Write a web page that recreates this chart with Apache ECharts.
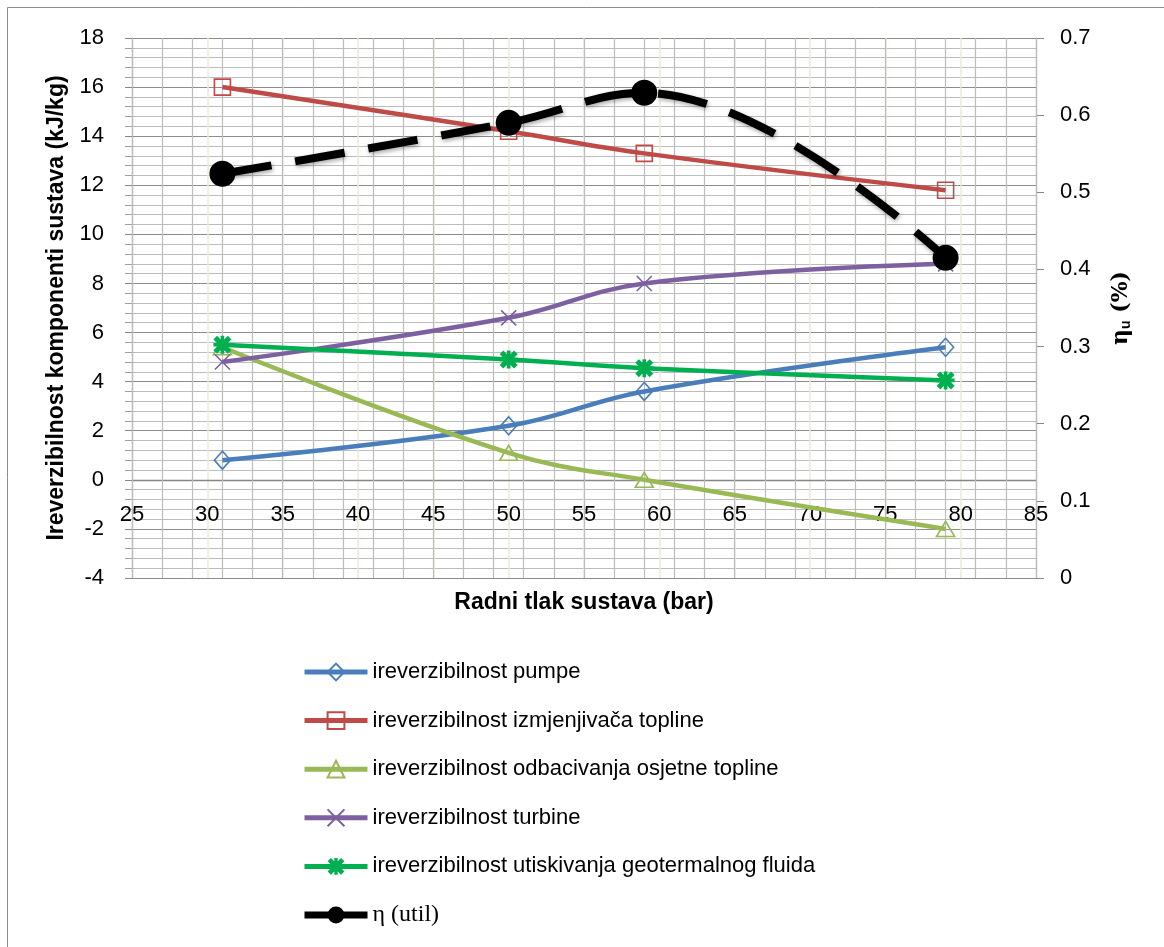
<!DOCTYPE html>
<html>
<head>
<meta charset="utf-8">
<script src="https://cdn.jsdelivr.net/npm/echarts@6/dist/echarts.min.js"></script>
<style>
html,body{margin:0;padding:0;background:#fff;}
#chart{width:1164px;height:947px;}
</style>
</head>
<body>
<div id="chart"></div>
<script>
// ---- data ----
const pressure = [31, 50, 59, 79];
const pumpe = [0.8, 2.2, 3.6, 5.4];
const izmjenjivac = [16.0, 14.2, 13.3, 11.8];
const odbacivanje = [5.4, 1.1, 0.0, -2.0];
const turbina = [4.8, 6.6, 8.0, 8.8];
const utiskivanje = [5.5, 4.9, 4.55, 4.05];
const etaUtil = [0.524, 0.590, 0.629, 0.415];

const seriesNames = [
  'ireverzibilnost pumpe',
  'ireverzibilnost izmjenjivača topline',
  'ireverzibilnost odbacivanja osjetne topline',
  'ireverzibilnost turbine',
  'ireverzibilnost utiskivanja geotermalnog fluida',
  'η (util)'
];
const seriesColors = ['#4a7ebb', '#be4b48', '#98b954', '#7d60a0', '#00b050', '#000000'];
const xTitle = 'Radni tlak sustava (bar)';
const yTitle = 'Ireverzibilnost komponenti sustava (kJ/kg)';

function pairs(ys) { return pressure.map((x, i) => [x, ys[i]]); }

const FONT = 'Liberation Sans';
const xPath = 'path://M0,0 L10,10 M10,0 L0,10';
const starPath = 'path://M2,0 L5,3 L8,0 L10,2 L7,5 L10,8 L8,10 L5,7 L2,10 L0,8 L3,5 L0,2 Z M4,0 L6,0 L6,10 L4,10 Z M0,4 L10,4 L10,6 L0,6 Z';

function lineSeries(name, data, color, symbol, size, filled, extra) {
  return Object.assign({
    name: name,
    type: 'line',
    xAxisIndex: 0,
    yAxisIndex: 0,
    data: pairs(data),
    smooth: 0.4,
    symbol: symbol,
    symbolSize: size,
    showSymbol: true,
    lineStyle: { color: color, width: 4.5 },
    itemStyle: filled
      ? { color: color, borderColor: color, borderWidth: 0 }
      : { color: 'rgba(255,255,255,0)', borderColor: color, borderWidth: 1.6 },
    emphasis: { disabled: true },
    animation: false
  }, extra || {});
}

const chart = echarts.init(document.getElementById('chart'), null, { renderer: 'canvas' });
chart.setOption({
  backgroundColor: '#fff',
  animation: false,
  textStyle: { fontFamily: FONT },
  graphic: [{
    type: 'rect',
    shape: { x: 7.5, y: 7.5, width: 1300, height: 1100 },
    style: { fill: 'none', stroke: '#8c8c8c', lineWidth: 1 },
    silent: true, z: -10
  }],
  grid: [
    { left: 132, right: 128, top: 38, bottom: 369, containLabel: false },
    // helper grid whose bottom edge sits on y = 0 of the main left axis (x axis crossing)
    { left: 132, right: 128, top: 38, bottom: 467, containLabel: false }
  ],
  legend: {
    orient: 'vertical',
    left: 296,
    top: 655,
    itemWidth: 63,
    itemHeight: 21,
    itemGap: 24.6,
    textStyle: { fontSize: 22, color: '#000', fontFamily: FONT, lineHeight: 24,
      rich: { s: { fontFamily: 'Liberation Serif', fontSize: 24, color: '#000' } } },
    formatter: function (n) { return n.indexOf('η') === 0 ? '{s|' + n + '}' : n; },
    data: seriesNames.map((n, i) => ({
      name: n,
      lineStyle: { type: 'solid', width: i === 5 ? 7 : 5, color: seriesColors[i] }
    }))
  },
  xAxis: [{
    gridIndex: 0, type: 'value', min: 25, max: 85, interval: 5, position: 'bottom',
    axisLine: { show: false, onZero: false },
    axisTick: { show: false },
    axisLabel: { show: false },
    splitLine: { show: true, showMinLine: false, showMaxLine: false, lineStyle: { color: '#efe9da', width: 1.5 } },
    name: xTitle, nameLocation: 'middle', nameGap: 13,
    nameTextStyle: { fontSize: 23, fontWeight: 'bold', color: '#000', fontFamily: FONT }
  }, {
    gridIndex: 0, type: 'value', min: 25, max: 85, interval: 2, position: 'bottom',
    axisLine: { show: false, onZero: false },
    axisTick: { show: false },
    axisLabel: { show: false },
    splitLine: { show: true, lineStyle: { color: '#bcbcbc', width: 1.2 } },
    z: 1
  }, {
    gridIndex: 1, type: 'value', min: 25, max: 85, interval: 2, position: 'bottom',
    axisLine: { show: true, onZero: false, lineStyle: { color: '#868686', width: 1.3 } },
    axisTick: { show: true, length: 5, lineStyle: { color: '#868686' } },
    axisLabel: { show: false },
    splitLine: { show: false }
  }, {
    gridIndex: 1, type: 'value', min: 25, max: 85, interval: 5, position: 'bottom',
    axisLine: { show: false, onZero: false },
    axisTick: { show: false },
    axisLabel: { fontSize: 22, color: '#000', margin: 24, fontFamily: FONT },
    splitLine: { show: false }
  }],
  yAxis: [{
    gridIndex: 0, type: 'value', min: -4, max: 18, interval: 2, position: 'left',
    axisLine: { show: true, onZero: false, lineStyle: { color: '#868686', width: 1.2 } },
    axisTick: { show: true, length: 7, lineStyle: { color: '#868686' } },
    minorTick: { show: true, splitNumber: 5, length: 7, lineStyle: { color: '#a0a0a0' } },
    axisLabel: { fontSize: 22, color: '#000', margin: 28, fontFamily: FONT },
    splitLine: { show: true, lineStyle: { color: '#8c8c8c', width: 1.2 } },
    minorSplitLine: { show: true, lineStyle: { color: '#bcbcbc', width: 1.2 } },
    name: yTitle, nameLocation: 'middle', nameGap: 62, nameRotate: 90,
    nameTextStyle: { fontSize: 23, fontWeight: 'bold', color: '#000', fontFamily: FONT }
  }, {
    gridIndex: 0, type: 'value', min: 0, max: 0.7, interval: 0.1, position: 'right',
    axisLine: { show: true, onZero: false, lineStyle: { color: '#868686', width: 1.2 } },
    axisTick: { show: true, length: 8, lineStyle: { color: '#868686' } },
    axisLabel: { fontSize: 22, color: '#000', margin: 24, fontFamily: FONT },
    splitLine: { show: false },
    name: '{a|η}{b|u}{a| (%)}', nameLocation: 'middle', nameGap: 73, nameRotate: 90,
    nameTextStyle: {
      rich: {
        a: { fontSize: 22, fontWeight: 'bold', color: '#000', fontFamily: 'DejaVu Serif' },
        b: { fontSize: 14, fontWeight: 'bold', color: '#000', fontFamily: FONT, padding: [10, 0, 0, 0] }
      }
    }
  }, {
    gridIndex: 1, type: 'value', min: 0, max: 1, show: false
  }],
  series: [
    lineSeries(seriesNames[0], pumpe, seriesColors[0], 'diamond', [16, 18], false),
    lineSeries(seriesNames[1], izmjenjivac, seriesColors[1], 'rect', 16, false),
    lineSeries(seriesNames[2], odbacivanje, seriesColors[2], 'triangle', [18, 15], false),
    lineSeries(seriesNames[3], turbina, seriesColors[3], xPath, 15, false),
    lineSeries(seriesNames[4], utiskivanje, seriesColors[4], starPath, 18, true),
    lineSeries(seriesNames[5], etaUtil, seriesColors[5], 'circle', 26, true, {
      yAxisIndex: 1,
      lineStyle: { color: '#000', width: 8, type: [50, 24],
        shadowColor: 'rgba(0,0,0,0.35)', shadowBlur: 4, shadowOffsetX: 1, shadowOffsetY: 2 }
    })
  ]
});
</script>
</body>
</html>
